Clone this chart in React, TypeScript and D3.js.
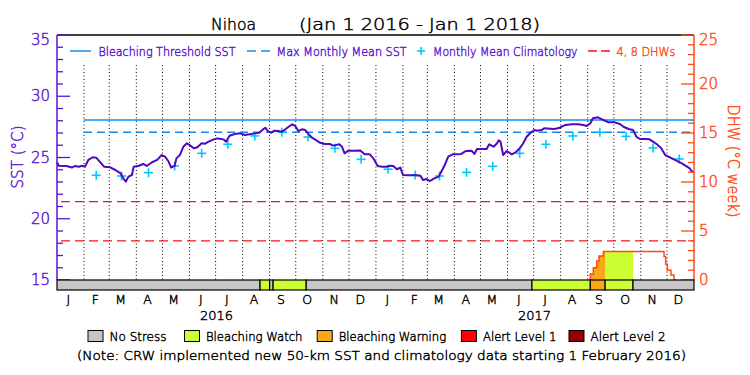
import React from "react";
import * as d3 from "d3";

// ---------------- DATA ----------------
const START = Date.UTC(2016, 0, 1);
const END = Date.UTC(2018, 0, 1);
const DAY_MS = 864e5;

// SST (daily): days since 1 Jan 2016
const sstDays = [
  0, 2, 11, 17, 21, 25, 29, 32, 36, 41, 45, 49, 54, 61, 67, 73, 76, 79, 82, 86,
  88, 94, 99, 103, 109, 115, 120, 124, 128, 131, 135, 137, 141, 145, 149, 153, 157, 161, 166, 170,
  174, 180, 184,
  191, 194, 198, 204, 210, 216, 221, 227, 232, 237, 239, 242, 246, 249, 254, 258, 262, 267, 270, 273,
  277, 281, 285, 288, 292, 296, 302, 307, 313, 317, 324, 327, 330, 334, 340, 348, 353, 359, 363,
  368, 373, 378, 382, 386, 390, 394, 397, 403, 411, 417, 420, 424, 428, 433, 438, 441, 445, 449, 454,
  459, 464, 469, 476, 479, 482, 487, 493, 496, 501, 505, 507, 509, 512, 516, 522, 527, 531, 535, 539,
  544, 548, 551,
  556, 559, 566, 571, 577, 583, 591, 598, 604, 608, 612, 615, 621, 627, 633, 640, 646, 650, 656, 661,
  665, 669, 675, 680, 684, 688, 693, 698, 703, 708, 713, 717, 723, 726, 728, 730,
];
const sstValues = [
  24.61, 24.33, 24.31, 24.18, 24.31, 24.25, 24.33, 24.25, 24.8, 25.02, 24.99, 24.67, 24.25, 24.2, 23.98, 23.71, 23.3, 23.03, 23.44, 23.57,
  24.25, 24.33, 24.47, 24.31, 24.61, 24.8, 25.2, 25.07, 24.67, 24.18, 24.31, 24.93, 25.2, 25.88, 26.16, 25.97, 25.75, 25.83, 26.16, 26.13,
  26.29, 26.48, 26.56,
  26.48, 26.29, 26.78, 26.92, 26.97, 26.84, 26.89, 26.97, 27.02, 27.33, 27.43, 27.16, 27.02, 27.19, 27.16, 27.1, 27.3, 27.57, 27.71, 27.6,
  27.16, 27.3, 27.24, 26.97, 26.65, 26.48, 26.2, 26.1, 26.1, 25.97, 26.08, 25.88, 25.34, 25.55, 25.55, 25.58, 25.26, 25.26, 24.93,
  24.31, 24.25, 24.25, 24.33, 24.31, 24.04, 24.18, 23.57, 23.55, 23.55, 23.52, 23.16, 23.24, 23.08, 23.3, 23.44, 23.84, 24.39, 25.07, 25.26,
  25.26, 25.29, 25.53, 25.55, 25.29, 25.69, 25.69, 25.69, 26.08, 25.88, 26.16, 26.4, 26.29, 25.2, 25.53, 25.26, 25.47, 25.75, 26.16, 26.69,
  27.06, 27.24, 27.19,
  27.24, 27.38, 27.35, 27.33, 27.43, 27.65, 27.71, 27.71, 27.65, 27.57, 27.79, 28.2, 28.28, 28.06, 27.87, 27.87, 27.73, 27.51, 27.33, 27.24,
  26.69, 26.51, 26.51, 26.48, 26.29, 26.1, 25.8, 25.2, 25.02, 24.85, 24.67, 24.52, 24.25, 24.12, 23.9, 23.84,
];

// Monthly mean climatology, Feb 2016 .. Dec 2017
const climStart = { year: 2016, month: 1 };
const climValues = [
  23.55, 23.49, 23.76, 24.31, 25.34, 26.08, 26.76, 27.06, 26.67, 25.75, 24.85,
  24.04, 23.57, 23.49, 23.79, 24.28, 25.34, 26.08, 26.76, 27.06, 26.73, 25.78, 24.88,
];

const mmm = 27.07;
const bleachingThreshold = 28.07;
const dhwLevels = [4, 8];

// Degree heating weeks (step data)
const dhwDays = [611, 612, 615.5, 619.4, 622, 627, 696.6, 698.5, 700.4, 704.6, 708, 710.4];
const dhwValues = [0, 0.6, 1.25, 1.94, 2.45, 2.9, 2.4, 1.6, 1.0, 0.5, 0, 0];

// Stress level segments: start day and level (0 no stress, 1 watch, 2 warning, 3 alert1, 4 alert2)
const stressStartDays = [0, 233, 244, 248, 286, 545, 612, 629, 661];
const stressLevels = [0, 1, 0, 1, 0, 1, 2, 1, 0];

const monthLetters = ["J", "F", "M", "A", "M", "J", "J", "A", "S", "O", "N", "D"];
const years = [2016, 2017];
const sstTicks = [15, 20, 25, 30, 35];
const dhwTicks = [0, 5, 10, 15, 20, 25];
const stressNames = ["No Stress", "Bleaching Watch", "Bleaching Warning", "Alert Level 1", "Alert Level 2"];
const stressColors = ["#c6c6c6", "#ccff33", "#f9a81a", "#ff0000", "#960000"];

// ---------------- STYLE ----------------
const PURPLE = "#5a14d4";
const LINE_PURPLE = "#5008c0";
const BLUE = "#108cf0";
const CYAN = "#00c8ff";
const RED = "#ff1010";
const ORANGE = "#ff4a14";
const FONT = "DejaVu Sans, Liberation Sans, sans-serif";
const FW = 200;
const TS = 0.45; // text outline to darken the light face

const L = 57, R = 694, T = 35, B = 280, BAR_B = 290;

const dayDate = (d: number) => new Date(START + d * DAY_MS);

export default function App() {
  const x = d3.scaleUtc().domain([new Date(START), new Date(END)]).range([L, R]);
  const yS = d3.scaleLinear().domain([15, 35]).range([B, T]);
  const yD = d3.scaleLinear().domain([0, 25]).range([B, T]);

  const sstLine = d3
    .line<number>()
    .x((_, i) => x(dayDate(sstDays[i])))
    .y((v) => yS(v))(sstValues);

  const dhwPts = dhwDays.map((d, i) => [d, dhwValues[i]] as [number, number]);
  const dhwLine = d3
    .line<[number, number]>()
    .curve(d3.curveStepAfter)
    .x((p) => x(dayDate(p[0])))
    .y((p) => yD(p[1]))(dhwPts);
  const dhwArea = d3
    .area<[number, number]>()
    .curve(d3.curveStepAfter)
    .x((p) => x(dayDate(p[0])))
    .y0(yD(0))
    .y1((p) => yD(p[1]))(dhwPts);

  const segs = stressStartDays.map((s, i) => ({
    x0: x(dayDate(s)),
    x1: x(dayDate(i + 1 < stressStartDays.length ? stressStartDays[i + 1] : (END - START) / DAY_MS)),
    level: stressLevels[i],
  }));

  const gridMonths = d3.utcMonth.range(new Date(Date.UTC(2016, 1, 1)), new Date(END));
  const allMonths = d3.utcMonth.range(new Date(START), new Date(END));

  const climPts = climValues.map((v, i) => ({
    date: new Date(Date.UTC(climStart.year, climStart.month + i, 15)),
    v,
  }));

  const minorS = d3.range(15, 36, 1);
  const minorD = d3.range(0, 26, 1);
  const xFeb = x(new Date(Date.UTC(2016, 1, 1)));

  const ink = (c: string) => ({ fill: c, stroke: c, strokeWidth: TS });

  return (
    <svg
      width={750}
      height={375}
      style={{ position: "absolute", left: 0, top: 0, background: "#fff" }}
      fontFamily={FONT}
      fontWeight={FW}
    >
      <rect x={0} y={0} width={750} height={375} fill="#fff" />
      <defs>
        {segs.map((s, i) => (
          <clipPath id={`seg${i}`} key={i}>
            <rect x={s.x0} y={T} width={s.x1 - s.x0} height={B - T} />
          </clipPath>
        ))}
      </defs>

      {/* Title */}
      <g {...ink("#000")}>
        <text x={211} y={24} fontSize={16} dominantBaseline="central" textLength={45} lengthAdjust="spacingAndGlyphs">Nihoa</text>
        <text x={299} y={24} fontSize={16} dominantBaseline="central" textLength={241} lengthAdjust="spacingAndGlyphs">(Jan 1 2016 - Jan 1 2018)</text>
      </g>

      {/* Month grid (dotted) */}
      {gridMonths.map((m, i) => (
        <line key={i} x1={x(m)} x2={x(m)} y1={65} y2={B} stroke="#000" strokeWidth={1} strokeDasharray="1,2.5" />
      ))}

      {/* DHW 4, 8 lines */}
      {dhwLevels.map((v) => (
        <line key={v} x1={L + 4} x2={R} y1={yD(v)} y2={yD(v)} stroke={RED} strokeWidth={1.3} strokeDasharray="9,5" />
      ))}

      {/* DHW filled by stress level */}
      {segs.map((s, i) =>
        s.level > 0 ? (
          <path key={i} d={dhwArea || ""} fill={stressColors[s.level]} clipPath={`url(#seg${i})`} />
        ) : null
      )}
      <path d={dhwLine || ""} fill="none" stroke={ORANGE} strokeWidth={1.5} />

      {/* Threshold & MMM */}
      <line x1={xFeb} x2={R} y1={yS(bleachingThreshold)} y2={yS(bleachingThreshold)} stroke={BLUE} strokeWidth={1.5} />
      <line x1={xFeb} x2={R} y1={yS(mmm)} y2={yS(mmm)} stroke={BLUE} strokeWidth={1.5} strokeDasharray="8,5" />

      {/* Climatology crosses */}
      {climPts.map((p, i) => {
        const cx = x(p.date), cy = yS(p.v);
        return (
          <g key={i} stroke={CYAN} strokeWidth={1.6}>
            <line x1={cx - 4.5} x2={cx + 4.5} y1={cy} y2={cy} />
            <line x1={cx} x2={cx} y1={cy - 4.5} y2={cy + 4.5} />
          </g>
        );
      })}

      {/* SST line */}
      <path d={sstLine || ""} fill="none" stroke={LINE_PURPLE} strokeWidth={2} strokeLinejoin="round" />

      {/* Top frame */}
      <line x1={L} x2={R} y1={T} y2={T} stroke="#000" strokeWidth={1.5} />

      {/* Left axis */}
      <line x1={L} x2={L} y1={T} y2={B} stroke={PURPLE} strokeWidth={1.5} />
      {minorS.map((v) => (
        <line key={v} x1={L} x2={L + (v % 5 === 0 ? 13 : 6)} y1={yS(v)} y2={yS(v)} stroke={PURPLE} strokeWidth={1.3} />
      ))}
      <g {...ink(PURPLE)}>
        {sstTicks.map((v) => (
          <text key={v} x={50} y={Math.max(yS(v), 40)} fontSize={15} textAnchor="end" dominantBaseline="central">
            {v}
          </text>
        ))}
        <text
          transform={`translate(17.5,157) rotate(-90)`}
          fontSize={15}
          textAnchor="middle"
          dominantBaseline="central"
          textLength={63}
          lengthAdjust="spacingAndGlyphs"
        >
          SST (°C)
        </text>
      </g>

      {/* Right axis */}
      <line x1={R} x2={R} y1={T} y2={B} stroke={ORANGE} strokeWidth={1.5} />
      {minorD.map((v) => (
        <line key={v} x1={R} x2={R - (v % 5 === 0 ? 13 : 6)} y1={yD(v)} y2={yD(v)} stroke={ORANGE} strokeWidth={1.3} />
      ))}
      <g {...ink(ORANGE)}>
        {dhwTicks.map((v) => (
          <text key={v} x={699} y={Math.max(yD(v), 40)} fontSize={15} textAnchor="start" dominantBaseline="central">
            {v}
          </text>
        ))}
        <text
          transform={`translate(733,161) rotate(90)`}
          fontSize={15}
          textAnchor="middle"
          dominantBaseline="central"
          textLength={113}
          lengthAdjust="spacingAndGlyphs"
        >
          DHW (°C week)
        </text>
      </g>

      {/* Stress bar */}
      {segs.map((s, i) => (
        <rect key={i} x={s.x0} y={B} width={s.x1 - s.x0} height={BAR_B - B} fill={stressColors[s.level]} stroke="#000" strokeWidth={1.2} />
      ))}

      {/* Month letters & years */}
      <g {...ink("#000")}>
        {allMonths.map((m, i) => (
          <text
            key={i}
            x={x(new Date(Date.UTC(m.getUTCFullYear(), m.getUTCMonth(), 14)))}
            y={299}
            fontSize={12.5}
            textAnchor="middle"
            dominantBaseline="central"
          >
            {monthLetters[m.getUTCMonth()]}
          </text>
        ))}
        {years.map((yr) => (
          <text
            key={yr}
            x={x(new Date(Date.UTC(yr, 6, 2)))}
            y={315.5}
            fontSize={12.5}
            textAnchor="middle"
            dominantBaseline="central"
            textLength={33}
            lengthAdjust="spacingAndGlyphs"
          >
            {yr}
          </text>
        ))}
      </g>

      {/* Top legend */}
      <g fontSize={12.5}>
        <line x1={70} x2={91} y1={51} y2={51} stroke={BLUE} strokeWidth={1.5} />
        <text {...ink(PURPLE)} x={98.5} y={51} dominantBaseline="central" textLength={137} lengthAdjust="spacingAndGlyphs">Bleaching Threshold SST</text>
        <line x1={247} x2={270} y1={51} y2={51} stroke={BLUE} strokeWidth={1.5} strokeDasharray="9,5" />
        <text {...ink(PURPLE)} x={276.6} y={51} dominantBaseline="central" textLength={130} lengthAdjust="spacingAndGlyphs">Max Monthly Mean SST</text>
        <line x1={417} x2={425} y1={51} y2={51} stroke={CYAN} strokeWidth={1.6} />
        <line x1={421} x2={421} y1={47} y2={55} stroke={CYAN} strokeWidth={1.6} />
        <text {...ink(PURPLE)} x={433} y={51} dominantBaseline="central" textLength={144.5} lengthAdjust="spacingAndGlyphs">Monthly Mean Climatology</text>
        <line x1={588} x2={610} y1={51} y2={51} stroke={RED} strokeWidth={1.5} strokeDasharray="9,4" />
        <text {...ink(ORANGE)} x={616.6} y={51} dominantBaseline="central" textLength={58.8} lengthAdjust="spacingAndGlyphs">4, 8 DHWs</text>
      </g>

      {/* Bottom legend */}
      {(() => {
        const boxX = [88, 184.5, 317.2, 461.4, 569];
        const textLen = [57, 96.5, 107.5, 73.5, 75];
        return stressNames.map((n, i) => (
          <g key={n}>
            <rect x={boxX[i]} y={330.5} width={15} height={11} fill={stressColors[i]} stroke="#000" strokeWidth={1} />
            <text {...ink("#000")} x={boxX[i] + 21.5} y={336} fontSize={12.5} dominantBaseline="central" textLength={textLen[i]} lengthAdjust="spacingAndGlyphs">
              {n}
            </text>
          </g>
        ));
      })()}

      <text {...ink("#000")} x={381.5} y={355} fontSize={13} textAnchor="middle" dominantBaseline="central" textLength={609} lengthAdjust="spacingAndGlyphs">
        (Note: CRW implemented new 50-km SST and climatology data starting 1 February 2016)
      </text>
    </svg>
  );
}
